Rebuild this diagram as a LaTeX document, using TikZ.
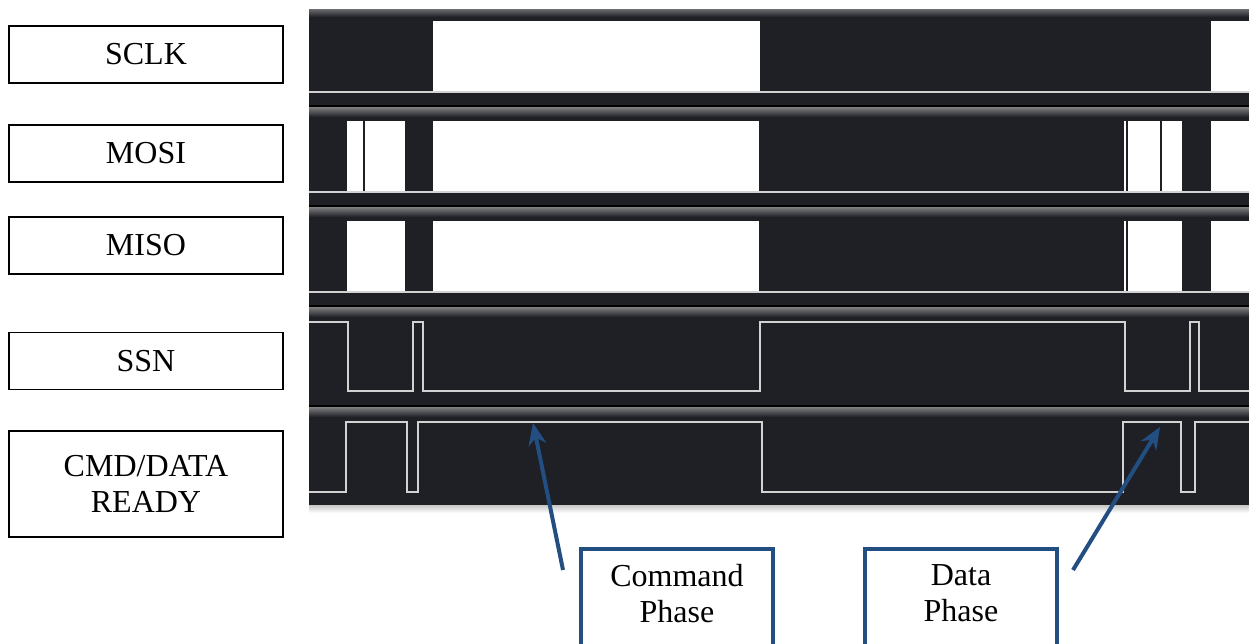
\documentclass[tikz,border=0pt]{standalone}
\usepackage{fontspec}
\setmainfont{Liberation Serif}
\usetikzlibrary{arrows.meta,positioning,shapes}
\definecolor{scope}{HTML}{1E2026}
\definecolor{talk}{HTML}{234E82}
\definecolor{trace}{HTML}{D2D2D2}
\tikzset{
    %Define style for signal name boxes
    signame/.style={
    rectangle,
    draw=black, line width=1.5pt,
    minimum width=274pt,
    minimum height=57pt,
    inner sep=0pt,
    font=\fontsize{32}{36}\selectfont,
    align=center
   },
   phasebox/.style={
    rectangle,
    draw=talk, line width=4pt,
    minimum width=192pt,
    minimum height=130pt
   },
   phasetext/.style={
    font=\fontsize{32}{36}\selectfont,
    align=center
   },
    % Define arrow style
    pil/.style={
           -{Stealth[length=22pt,width=18pt]},
           draw=talk,
           line width=4pt},
    bar/.style={top color=black!50, bottom color=scope},
    lowline/.style={draw=trace, line width=2pt},
    wave/.style={draw=trace, line width=2.5pt, line join=miter},
    hi/.style={fill=white},
}
\begin{document}
\begin{tikzpicture}[x=1pt,y=-1pt]
\useasboundingbox (0,0) rectangle (1249,643);
%scope screen
\fill[top color=gray!45, bottom color=white] (309,505) rectangle (1249,513);
\fill[scope] (309,9) rectangle (1249,505);
\begin{scope}
\clip (309,9) rectangle (1249,505);
\foreach \r in {0,...,4}{
  \draw[black, line width=1.5pt] (309,{6+100*\r}) -- (1249,{6+100*\r});
  \fill[bar] (309,{7+100*\r}) rectangle (1249,{17+100*\r});
}
\end{scope}
%busy lanes
\foreach \r/\a/\b in {0/433/760, 0/1211/1249,
  1/347/363, 1/365/405, 1/433/759, 1/1124/1126, 1/1128/1160, 1/1162/1182, 1/1211/1249,
  2/347/405, 2/433/759, 2/1124/1126, 2/1128/1182, 2/1211/1249}
  \fill[hi] (\a,{21+100*\r}) rectangle (\b,{92+100*\r});
\foreach \r in {0,1,2}
  \draw[lowline] (309,{92+100*\r}) -- (1249,{92+100*\r});
%SSN and CMD/DATA READY
\draw[wave] (309,322) -- (348,322) -- (348,391) -- (413,391) -- (413,322) -- (423,322)
  -- (423,391) -- (760,391) -- (760,322) -- (1125,322) -- (1125,391) -- (1190,391)
  -- (1190,322) -- (1199,322) -- (1199,391) -- (1249,391);
\draw[wave] (309,492) -- (346,492) -- (346,422) -- (407,422) -- (407,492) -- (418,492)
  -- (418,422) -- (762,422) -- (762,492) -- (1123,492) -- (1123,422) -- (1181,422)
  -- (1181,492) -- (1195,492) -- (1195,422) -- (1249,422);
%nodes
\node[signame](sclk) at (146,54.5){SCLK};
\node[signame](mosi) at (146,153.5){MOSI};
\node[signame](miso) at (146,245.5){MISO};
\node[signame](ssn) at (146,361){SSN};
\node[signame, minimum height=106pt](cmd) at (146,484){CMD/DATA\\READY};
\node[phasebox, anchor=north](cmdbox) at (677,547){};
\node[phasetext, below=14pt of cmdbox.north](cmdlabel){Command\\Phase};
\node[phasebox, anchor=north](databox) at (961,547){};
\node[phasetext, below=14pt of databox.north](datalabel){Data\\Phase};
\coordinate (cmdtail) at (563,570);
\coordinate (cmdtip) at (533,423);
\coordinate (datatail) at (1073,570);
\coordinate (datatip) at (1160,427);
\draw[pil] (cmdtail) -- (cmdtip);
\draw[pil] (datatail) -- (datatip);
\end{tikzpicture}
\end{document}
